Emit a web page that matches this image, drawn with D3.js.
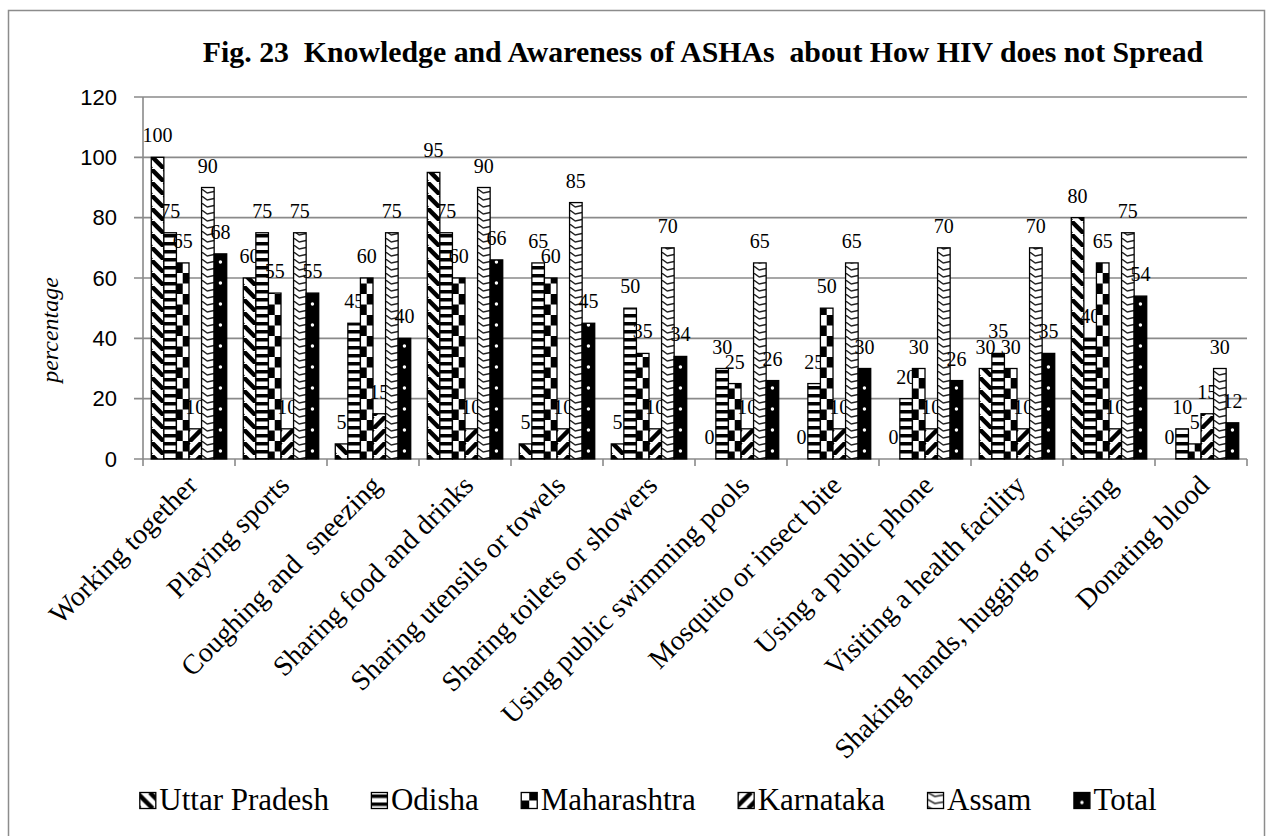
<!DOCTYPE html>
<meta charset="utf-8">
<script src="https://cdn.jsdelivr.net/npm/d3@7"></script>
<style>
  body { margin: 0; background: #fff; }
  text { font-family: "Liberation Serif", "Times New Roman", serif; }
</style>
<body>
<script>
// chart data
var categories = ["Working together", "Playing sports", "Coughing and  sneezing", "Sharing food and drinks",
    "Sharing utensils or towels", "Sharing toilets or showers", "Using public swimming pools",
    "Mosquito or insect bite", "Using a public phone", "Visiting a health facility",
    "Shaking hands, hugging or kissing", "Donating blood"];
var series = ["Uttar Pradesh", "Odisha", "Maharashtra", "Karnataka", "Assam", "Total"];
var uttarPradesh = [100, 60, 5, 95, 5, 5, 0, 0, 0, 30, 80, 0];
var odisha = [75, 75, 45, 75, 65, 50, 30, 25, 20, 35, 40, 10];
var maharashtra = [65, 55, 60, 60, 60, 35, 25, 50, 30, 30, 65, 5];
var karnataka = [10, 10, 15, 10, 10, 10, 10, 10, 10, 10, 10, 15];
var assam = [90, 75, 75, 90, 85, 70, 65, 65, 70, 70, 75, 30];
var total = [68, 55, 40, 66, 45, 34, 26, 30, 26, 35, 54, 12];
var yTicks = [0, 20, 40, 60, 80, 100, 120];
var title = "Fig. 23  Knowledge and Awareness of ASHAs  about How HIV does not Spread";
var yTitle = "percentage";

var values = [uttarPradesh, odisha, maharashtra, karnataka, assam, total];

var w = 1275, h = 836,
    pLeft = 143, pRight = 1247, pTop = 97, pBottom = 459,
    grid = "#8a8a8a";

var svg = d3.select("body").append("svg")
    .attr("width", w)
    .attr("height", h);

var x0 = d3.scaleBand().domain(categories).range([pLeft, pRight]).padding(0);
var step = x0.step();
var x1 = d3.scaleBand().domain(series).range([step * 0.09, step * 0.91]).padding(0);
var bw = x1.bandwidth();
var y = d3.scaleLinear().domain([0, 120]).range([pBottom, pTop]);

// outer frame
svg.append("rect")
    .attr("x", 8.5).attr("y", 10.5)
    .attr("width", 1256).attr("height", 840)
    .attr("fill", "none").attr("stroke", "#8c8c8c").attr("stroke-width", 1.5);

// fill patterns, one tile drawer used by bars and legend
var defs = svg.append("defs");
var tileH = [13, 8, 21, 13, 7, 21];

function drawTile(p, i, ox, bwid, H) {
    var bg = i == 5 ? "#000" : "#fff";
    p.append("rect").attr("x", 0).attr("y", 0).attr("width", 2000).attr("height", H).attr("fill", bg);
    if (i == 0 || i == 3) {
        var per = 13;
        for (var xx = ox - H - per; xx < ox + bwid + per; xx += per) {
            var ln = i == 0 ? [xx, 0, xx + H, H] : [xx, H, xx + H, 0];
            p.append("line")
                .attr("x1", ln[0]).attr("y1", ln[1]).attr("x2", ln[2]).attr("y2", ln[3])
                .attr("stroke", "#000").attr("stroke-width", 4.5);
        }
    } else if (i == 1) {
        for (var yy = 0; yy < H; yy += 8)
            p.append("rect").attr("x", ox - 2).attr("y", yy + 2).attr("width", bwid + 4).attr("height", 3.5).attr("fill", "#000");
    } else if (i == 2) {
        var half = Math.min(10.5, H / 2);
        for (var yy = 0; yy < H; yy += 2 * half) {
            p.append("rect").attr("x", ox + bwid / 2).attr("y", yy).attr("width", bwid / 2).attr("height", half).attr("fill", "#000");
            p.append("rect").attr("x", ox).attr("y", yy + half).attr("width", bwid / 2).attr("height", half).attr("fill", "#000");
        }
    } else if (i == 4) {
        for (var yy = 0; yy < H; yy += 7)
            p.append("path")
                .attr("d", "M" + ox + "," + yy + " L" + (ox + bwid * 0.45) + "," + (yy + 4) + " L" + (ox + bwid) + "," + (yy + 2.5))
                .attr("fill", "none").attr("stroke", "#222").attr("stroke-width", 1.5);
    } else if (i == 5) {
        for (var yy = 0; yy < H; yy += 21)
            p.append("circle").attr("cx", ox + bwid / 2).attr("cy", yy + 10).attr("r", 1.7).attr("fill", "#fff");
    }
}

series.forEach(function (s, i) {
    // bars sit in a translated group, so the tile runs from 0 to one category step
    var p = defs.append("pattern")
        .attr("id", "bar" + i)
        .attr("patternUnits", "userSpaceOnUse")
        .attr("x", 0).attr("y", 0)
        .attr("width", step).attr("height", tileH[i]);
    drawTile(p, i, x1(s), bw, tileH[i]);

    var q = defs.append("pattern")
        .attr("id", "leg" + i)
        .attr("patternUnits", "objectBoundingBox")
        .attr("width", 1).attr("height", 1);
    drawTile(q, i, 0, 16, 16);
});

// gridlines
svg.selectAll(".grid")
    .data(yTicks)
    .enter()
    .append("line")
    .attr("x1", pLeft - 9).attr("x2", pRight)
    .attr("y1", function (d) { return y(d); })
    .attr("y2", function (d) { return y(d); })
    .attr("stroke", grid).attr("stroke-width", 1.6);

// y axis line
svg.append("line")
    .attr("x1", pLeft).attr("x2", pLeft)
    .attr("y1", pTop).attr("y2", pBottom)
    .attr("stroke", grid).attr("stroke-width", 1.6);

// x axis ticks at category edges
svg.selectAll(".xtick")
    .data(d3.range(categories.length + 1))
    .enter()
    .append("line")
    .attr("x1", function (d) { return pLeft + d * step; })
    .attr("x2", function (d) { return pLeft + d * step; })
    .attr("y1", pBottom).attr("y2", pBottom + 7)
    .attr("stroke", grid).attr("stroke-width", 1.6);

svg.selectAll(".ylabel")
    .data(yTicks)
    .enter()
    .append("text")
    .attr("x", 117)
    .attr("y", function (d) { return y(d); })
    .attr("dy", "0.35em")
    .style("text-anchor", "end")
    .style("font-family", "'Liberation Sans', Arial, sans-serif")
    .style("font-size", "22px")
    .text(function (d) { return d; });

// bars
var groups = svg.selectAll(".cat")
    .data(categories)
    .enter()
    .append("g")
    .attr("transform", function (d) { return "translate(" + x0(d) + ",0)"; });

var cells = groups.selectAll("g")
    .data(function (d, ci) { return series.map(function (s, si) { return { s: s, si: si, v: values[si][ci] }; }); })
    .enter()
    .append("g");

cells.append("rect")
    .attr("x", function (d) { return x1(d.s); })
    .attr("y", function (d) { return y(d.v); })
    .attr("width", bw)
    .attr("height", function (d) { return pBottom - y(d.v); })
    .attr("fill", function (d) { return "url(#bar" + d.si + ")"; })
    .attr("stroke", "#000")
    .attr("stroke-width", function (d) { return d.v > 0 ? 1.3 : 0; });

cells.append("text")
    .attr("x", function (d) { return x1(d.s) + bw / 2; })
    .attr("y", function (d) { return y(d.v) - 15; })
    .style("text-anchor", "middle")
    .style("font-size", "20px")
    .text(function (d) { return d.v; });

// category labels
svg.selectAll(".xlabel")
    .data(categories)
    .enter()
    .append("text")
    .attr("transform", function (d) { return "translate(" + (x0(d) + step / 2 + 10) + "," + (pBottom + 28) + ") rotate(-45)"; })
    .style("text-anchor", "end")
    .style("font-size", "28px")
    .style("white-space", "pre")
    .text(function (d) { return d; });

// y title
svg.append("text")
    .attr("transform", "translate(58,330) rotate(-90)")
    .style("text-anchor", "middle")
    .style("font-style", "italic")
    .style("font-size", "24px")
    .text(yTitle);

// title
svg.append("text")
    .attr("x", 703).attr("y", 62)
    .style("text-anchor", "middle")
    .style("font-weight", "bold")
    .style("font-size", "29.8px")
    .style("white-space", "pre")
    .text(title);

// legend
var legend = svg.append("g");
var pos = 0;
series.forEach(function (s, i) {
    var g = legend.append("g").attr("transform", "translate(" + pos + ",0)");
    g.append("rect")
        .attr("x", 0.5).attr("y", 792.5)
        .attr("width", 16).attr("height", 16)
        .attr("fill", "url(#leg" + i + ")")
        .attr("stroke", "#000").attr("stroke-width", 1.3);
    var t = g.append("text")
        .attr("x", 20).attr("y", 810)
        .style("font-size", "31px")
        .text(s);
    pos += 20 + t.node().getComputedTextLength() + 42;
});
pos -= 42;
legend.attr("transform", "translate(" + (648 - pos / 2) + ",0)");
</script>
</body>
